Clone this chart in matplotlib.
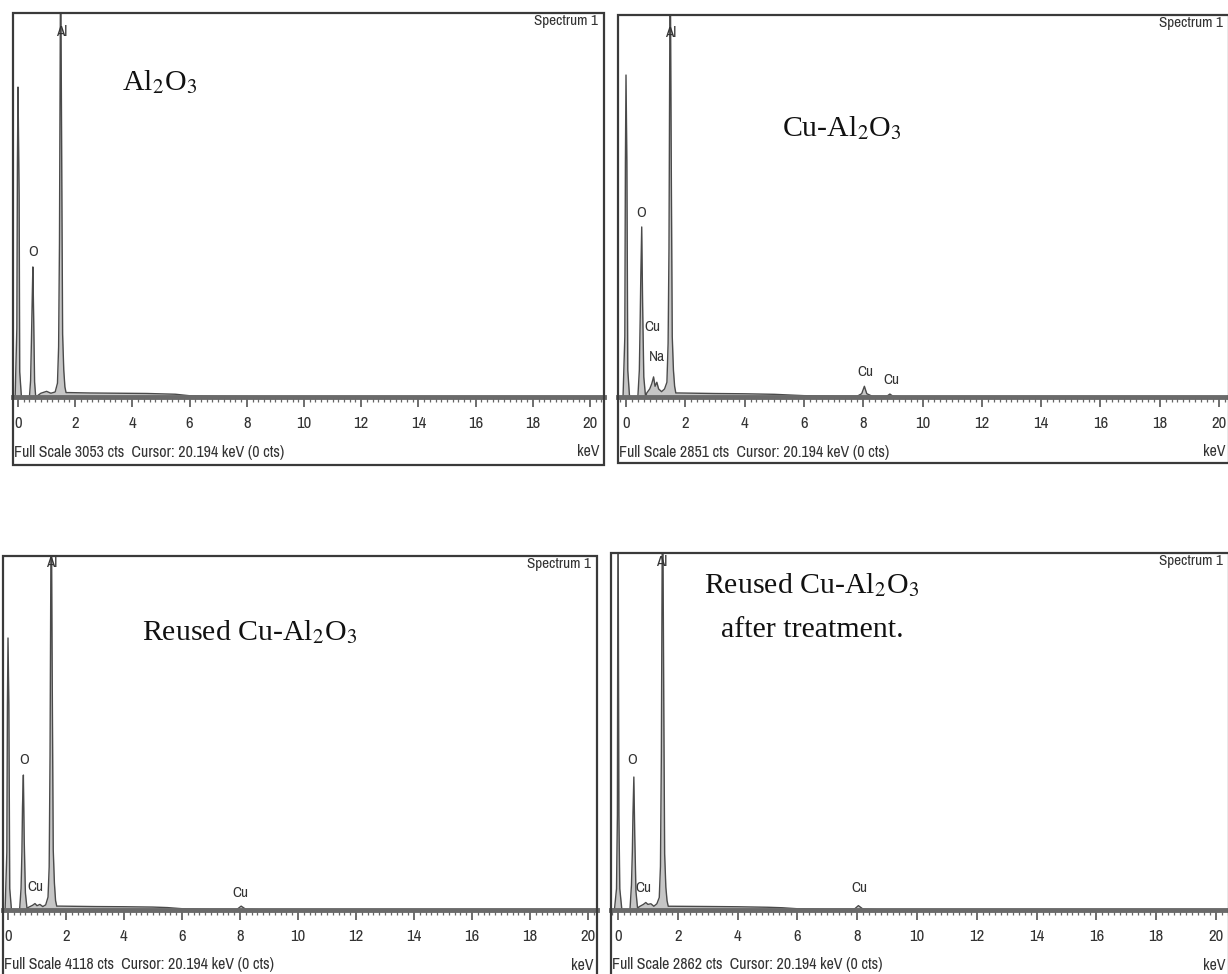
import matplotlib
matplotlib.use("Agg")
import matplotlib.pyplot as plt
from matplotlib.patches import Rectangle
from matplotlib.ticker import MultipleLocator
from matplotlib import font_manager

# ---------------- data ----------------
full_scale = [3053, 2851, 4118, 2862]
titles = [["Al$_2$O$_3$"], ["Cu-Al$_2$O$_3$"], ["Reused Cu-Al$_2$O$_3$"],
          ["Reused Cu-Al$_2$O$_3$", "after treatment."]]

tl_kev = [-0.10, -0.04, -0.02, 0.0, 0.04, 0.06, 0.12, 0.40, 0.44, 0.47, 0.50, 0.52, 0.55, 0.58, 0.62,
          0.80, 1.00, 1.15, 1.30, 1.38, 1.42, 1.45, 1.49, 1.53, 1.56, 1.60, 1.64, 1.68,
          1.8, 2.5, 3.5, 4.5, 5.5, 6.0, 7.0, 10.0, 20.0]
tl_cts = [0, 550, 1860, 2464, 1600, 200, 0, 0, 130, 450, 810, 1034, 600, 120, 0,
          30, 45, 30, 40, 110, 400, 1225, 3600, 1800, 500, 215, 80, 35,
          35, 32, 30, 28, 22, 10, 5, 0, 0]

tr_kev = [-0.10, -0.04, -0.02, 0.0, 0.03, 0.06, 0.12, 0.40, 0.45, 0.48, 0.50, 0.53, 0.56, 0.60, 0.66,
          0.70, 0.80, 0.87, 0.93, 0.98, 1.04, 1.10, 1.20, 1.30, 1.38, 1.42, 1.45, 1.49, 1.53, 1.56,
          1.60, 1.64, 1.68, 1.8, 3.0, 4.0, 5.0, 5.5, 6.0, 7.0, 7.8, 7.95, 8.04, 8.12, 8.3, 8.8,
          8.9, 9.0, 9.5, 20.0]
tr_cts = [0, 450, 1750, 2403, 1750, 200, 0, 0, 200, 600, 910, 1269, 700, 150, 0,
          30, 60, 100, 150, 80, 110, 60, 40, 60, 110, 400, 1112, 3400, 1600, 450,
          200, 80, 30, 30, 26, 24, 20, 15, 10, 6, 6, 25, 80, 25, 6, 6,
          22, 6, 0, 0]

bl_kev = [-0.10, -0.04, -0.02, 0.0, 0.03, 0.06, 0.12, 0.40, 0.45, 0.48, 0.50, 0.53, 0.56, 0.60, 0.66,
          0.70, 0.85, 0.93, 1.00, 1.10, 1.20, 1.30, 1.38, 1.42, 1.45, 1.49, 1.53, 1.56, 1.60,
          1.64, 1.68, 1.8, 3.0, 4.0, 5.0, 5.5, 6.0, 7.0, 7.9, 8.04, 8.2, 9.0, 20.0]
bl_cts = [0, 675, 2385, 3164, 2385, 250, 0, 0, 250, 675, 1198, 1570, 800, 200, 0,
          30, 55, 75, 50, 65, 40, 60, 150, 500, 1803, 5000, 2400, 700, 314,
          110, 45, 45, 40, 38, 34, 28, 15, 8, 8, 45, 8, 0, 0]

br_kev = [-0.12, -0.05, -0.02, 0.0, 0.03, 0.06, 0.13, 0.40, 0.45, 0.48, 0.50, 0.53, 0.56, 0.60, 0.66,
          0.70, 0.85, 0.93, 1.00, 1.10, 1.20, 1.30, 1.38, 1.42, 1.45, 1.49, 1.53, 1.56, 1.60,
          1.64, 1.68, 1.8, 3.0, 4.0, 5.0, 5.5, 6.0, 7.0, 7.9, 8.04, 8.2, 9.0, 20.0]
br_cts = [0, 170, 760, 3500, 760, 170, 0, 0, 200, 465, 762, 1066, 600, 150, 0,
          25, 45, 60, 45, 50, 30, 50, 100, 350, 1243, 3600, 1700, 450, 184,
          75, 30, 30, 28, 26, 22, 18, 10, 6, 6, 35, 6, 0, 0]

# peak labels: (text, keV, cts)
tl_labels = [("Al", 1.54, 2900), ("O", 0.52, 1153)]
tr_labels = [("Al", 1.50, 2717), ("O", 0.50, 1373), ("Cu", 0.90, 522), ("Na", 1.03, 298),
             ("Cu", 8.07, 187), ("Cu", 8.95, 127)]
bl_labels = [("Al", 1.52, 4037), ("O", 0.55, 1745), ("Cu", 0.95, 268), ("Cu", 8.0, 198)]
br_labels = [("Al", 1.47, 2790), ("O", 0.47, 1202), ("Cu", 0.85, 176), ("Cu", 8.07, 176)]

tick_values = list(range(0, 21, 2))
tick_labels = [str(v) for v in tick_values]
cursor_text = "Cursor: 20.194 keV (0 cts)"

# ---------------- layout (pixels) ----------------
W, H = 1228, 974
layout = [
    dict(frame=(13, 13, 604, 465), base=397, x0=18, x20=590, tpos=[(160, 82)]),
    dict(frame=(618, 15, 1229, 463), base=397, x0=626, x20=1219, tpos=[(842, 128)]),
    dict(frame=(3, 556, 597, 978), base=910, x0=8, x20=588, tpos=[(250, 632)]),
    dict(frame=(611, 553, 1229, 978), base=910, x0=618, x20=1216, tpos=[(812, 585), (812, 630)]),
]
spectra = [(tl_kev, tl_cts, tl_labels), (tr_kev, tr_cts, tr_labels),
           (bl_kev, bl_cts, bl_labels), (br_kev, br_cts, br_labels)]

# pick a condensed sans font if one is installed
narrow = None
for f in font_manager.fontManager.ttflist:
    if ('Narrow' in f.name or 'Condensed' in f.name) and 'Serif' not in f.name:
        narrow = f.name
        break
if narrow:
    small_font = [narrow, 'DejaVu Sans']
    fs_tick, fs_small, fs_lab = 12, 11.5, 11
else:
    small_font = ['Liberation Sans', 'DejaVu Sans']
    fs_tick, fs_small, fs_lab = 10, 9.3, 9.5

plt.rcParams['mathtext.fontset'] = 'stix'

fig = plt.figure(figsize=(W / 100, H / 100), dpi=100)
fig.patch.set_facecolor('white')

for i, lay in enumerate(layout):
    fl, ft, fr, fb = lay['frame']
    base = lay['base']
    ppk = (lay['x20'] - lay['x0']) / 20.0
    ax = fig.add_axes([fl / W, 1 - base / H, (fr - fl) / W, (base - ft) / H])
    ax.set_xlim((fl - lay['x0']) / ppk, (fr - lay['x0']) / ppk)
    ax.set_ylim(0, full_scale[i])
    for s in ax.spines.values():
        s.set_visible(False)
    ax.set_yticks([])
    ax.set_facecolor('none')

    kev, cts, labels = spectra[i]
    ax.fill_between(kev, cts, 0, color='#c6c6c6', lw=0, zorder=2)
    ax.plot(kev, cts, color='#4a4a4a', lw=1.0, zorder=2.5)
    ax.axhline(0, color='#6a6a6a', lw=3.5, zorder=3, clip_on=False)

    ax.set_xticks(tick_values)
    ax.set_xticklabels(tick_labels, family=small_font, fontsize=fs_tick, color='#333333')
    ax.xaxis.set_minor_locator(MultipleLocator(0.2))
    ax.tick_params(axis='x', which='major', direction='out', length=7, width=1.2,
                   color='#555555', pad=7)
    ax.tick_params(axis='x', which='minor', direction='out', length=3.5, width=0.9,
                   color='#666666')

    for txt, xk, yc in labels:
        ax.text(xk, yc, txt, ha='center', va='center', family=small_font,
                fontsize=fs_lab, color='#333333', zorder=4)

    fig.add_artist(Rectangle((fl / W, 1 - fb / H), (fr - fl) / W, (fb - ft) / H,
                             transform=fig.transFigure, fill=False,
                             ec='#3a3a3a', lw=1.6, zorder=10))
    fig.text((fr - 6) / W, 1 - (ft + 8) / H, "Spectrum 1", ha='right', va='center',
             family=small_font, fontsize=fs_lab, color='#333333')
    fig.text((fl + 1) / W, 1 - (base + 55) / H,
             "Full Scale %d cts  %s" % (full_scale[i], cursor_text),
             ha='left', va='center', family=small_font, fontsize=fs_small, color='#333333')
    fig.text((fr - 4) / W, 1 - (base + 55) / H, "keV", ha='right', va='center',
             family=small_font, fontsize=fs_small, color='#333333')
    for t, (cx, cy) in zip(titles[i], lay['tpos']):
        fig.text(cx / W, 1 - cy / H, t, ha='center', va='center',
                 family=['Liberation Serif', 'DejaVu Serif'], fontsize=21.5, color='#111111')

fig.savefig('out.png', dpi=100)
